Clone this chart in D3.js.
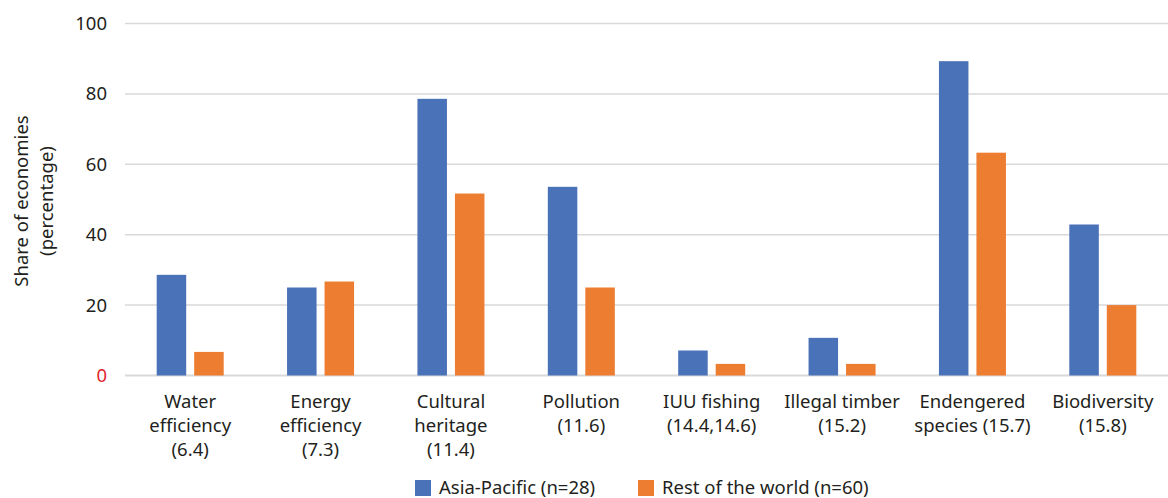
<!DOCTYPE html>
<html>
<head>
<meta charset="utf-8">
<script src="https://cdn.jsdelivr.net/npm/d3@7"></script>
<style>
  html, body { margin: 0; padding: 0; background: #fff; }
  svg { display: block; font-family: "Noto Sans", sans-serif; }
</style>
</head>
<body>
<svg id="chart" width="1168" height="498"></svg>
<script>
// Category labels (multi-line) and series values (% of economies)
const categories = [
  ["Water", "efficiency", "(6.4)"],
  ["Energy", "efficiency", "(7.3)"],
  ["Cultural", "heritage", "(11.4)"],
  ["Pollution", "(11.6)"],
  ["IUU fishing", "(14.4,14.6)"],
  ["Illegal timber", "(15.2)"],
  ["Endengered", "species (15.7)"],
  ["Biodiversity", "(15.8)"]
];
const seriesNames = ["Asia-Pacific (n=28)", "Rest of the world (n=60)"];
const asiaPacific = [28.6, 25.0, 78.6, 53.6, 7.1, 10.7, 89.3, 42.9];
const restOfWorld = [6.7, 26.7, 51.7, 25.0, 3.3, 3.3, 63.3, 20.0];
const yTicks = [0, 20, 40, 60, 80, 100];
const colors = ["#4a72b8", "#ed7d31"];

const svg = d3.select("#chart");
const plot = { left: 125, right: 1168, top: 23.5, bottom: 375.5 };
const fs = 18.5;
const ink = "#231f20";

const keys = categories.map((c, i) => i);
const x0 = d3.scaleBand().domain(keys).range([plot.left, plot.right]).paddingInner(0).paddingOuter(0);
const x1 = d3.scaleBand().domain([0, 1]).range([0, x0.bandwidth()])
  .paddingInner(0.213).paddingOuter(0.845);
const y = d3.scaleLinear().domain([0, 100]).range([plot.bottom, plot.top]);

// Gridlines
svg.append("g").selectAll("line").data(yTicks).join("line")
  .attr("x1", plot.left).attr("x2", plot.right)
  .attr("y1", d => y(d)).attr("y2", d => y(d))
  .attr("stroke", "#d9d9d9")
  .attr("stroke-width", d => d === 0 ? 2 : 1.5);

// Y tick labels
svg.append("g").selectAll("text").data(yTicks).join("text")
  .attr("x", 107).attr("y", d => y(d))
  .attr("dy", "0.35em")
  .attr("text-anchor", "end")
  .attr("font-size", fs)
  .attr("fill", d => d === 0 ? "#e0262f" : ink)
  .text(d => d);

// Y axis title
const yt = svg.append("text")
  .attr("transform", "translate(28,201) rotate(-90)")
  .attr("text-anchor", "middle")
  .attr("font-size", fs)
  .attr("fill", ink);
yt.append("tspan").attr("x", 0).attr("dy", 0).text("Share of economies");
yt.append("tspan").attr("x", 0).attr("dy", 24.5).text("(percentage)");

// Bars
const series = [asiaPacific, restOfWorld];
const groups = svg.append("g").selectAll("g").data(keys).join("g")
  .attr("transform", d => `translate(${x0(d)},0)`);
groups.selectAll("rect")
  .data(i => series.map((s, k) => ({ k, v: s[i] })))
  .join("rect")
  .attr("x", d => x1(d.k))
  .attr("width", x1.bandwidth())
  .attr("y", d => y(d.v))
  .attr("height", d => y(0) - y(d.v))
  .attr("fill", d => colors[d.k]);

// Category labels
const labels = svg.append("g").selectAll("text").data(keys).join("text")
  .attr("x", d => x0(d) + x0.bandwidth() / 2)
  .attr("y", 408)
  .attr("text-anchor", "middle")
  .attr("font-size", fs)
  .attr("fill", ink);
labels.selectAll("tspan").data(i => categories[i].map(t => ({ t, x: x0(i) + x0.bandwidth() / 2 })))
  .join("tspan")
  .attr("x", d => d.x)
  .attr("dy", (d, j) => j === 0 ? 0 : 24)
  .text(d => d.t);

// Legend
const legendX = [415, 638];
const lg = svg.append("g").selectAll("g").data(seriesNames).join("g")
  .attr("transform", (d, i) => `translate(${legendX[i]},480)`);
lg.append("rect").attr("width", 16).attr("height", 16).attr("fill", (d, i) => colors[i]);
lg.append("text").attr("x", 24).attr("y", 8).attr("dy", "0.35em")
  .attr("font-size", fs).attr("fill", ink).text(d => d);
</script>
</body>
</html>
